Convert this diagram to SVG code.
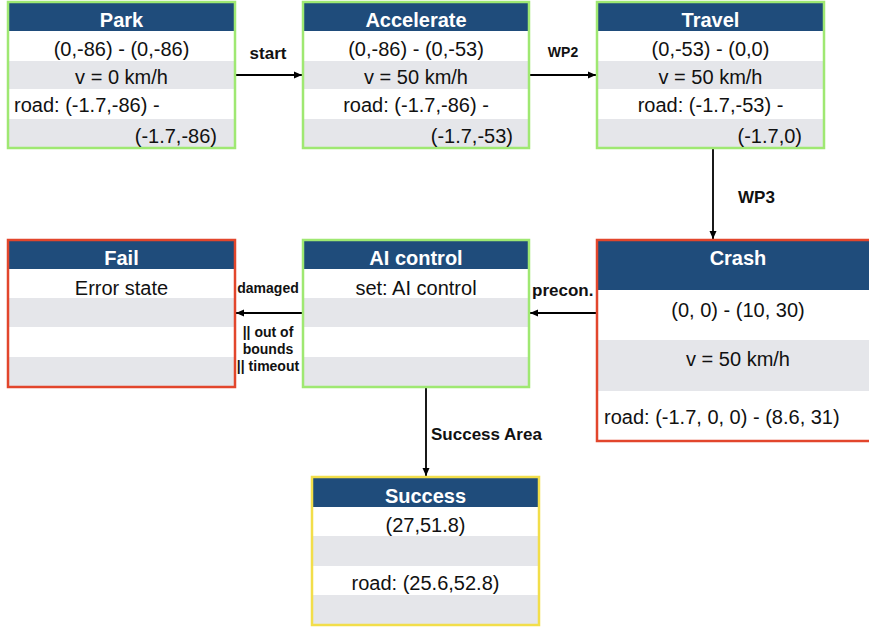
<svg xmlns="http://www.w3.org/2000/svg" width="869" height="628" viewBox="0 0 869 628">
<defs>
<marker id="ah" markerWidth="10" markerHeight="10" refX="9" refY="5" orient="auto" markerUnits="userSpaceOnUse">
<path d="M1,1.5 L9,5 L1,8.5 Z" fill="#000"/>
</marker>
<style>
.hd{fill:#1f4c7b}
.w{fill:#ffffff}
.g{fill:#e5e6ea}
.bg{fill:none;stroke:#9fe872;stroke-width:2.5}
.br{fill:none;stroke:#e2462c;stroke-width:2.5}
.by{fill:none;stroke:#f2de4a;stroke-width:2.5}
.ht{font-family:"Liberation Sans",Arial,sans-serif;font-weight:bold;font-size:20px;fill:#fff;text-anchor:middle}
.t{font-family:"Liberation Sans",Arial,sans-serif;font-size:20px;fill:#111}
.c{text-anchor:middle}
.e{text-anchor:end}
.lb{font-family:"Liberation Sans",Arial,sans-serif;font-weight:bold;font-size:17px;fill:#111}
.ls{font-family:"Liberation Sans",Arial,sans-serif;font-weight:bold;font-size:14px;fill:#111;text-anchor:middle}
.ln{stroke:#000;stroke-width:1.8;fill:none;marker-end:url(#ah)}
</style>
</defs>
<rect width="869" height="628" fill="#fff"/>

<g id="connectors">
<line class="ln" x1="236" y1="75" x2="302" y2="75"/>
<line class="ln" x1="530" y1="75" x2="596" y2="75"/>
<line class="ln" x1="713" y1="149" x2="713" y2="239"/>
<line class="ln" x1="597" y1="313" x2="530" y2="313"/>
<line class="ln" x1="303" y1="313" x2="236" y2="313"/>
<line class="ln" x1="426" y1="388" x2="426" y2="476"/>
<text class="lb" x="268" y="59" text-anchor="middle">start</text>
<text class="ls" x="563" y="57">WP2</text>
<text class="lb" x="738" y="203">WP3</text>
<text class="lb" x="532" y="296">precon.</text>
<text class="ls" x="268" y="293">damaged</text>
<text class="ls" x="268" y="337">|| out of</text>
<text class="ls" x="268" y="354">bounds</text>
<text class="ls" x="268" y="371">|| timeout</text>
<text class="lb" x="431" y="440">Success Area</text>
</g>

<g id="park">
<rect class="hd" x="8" y="2" width="227" height="29"/>
<rect class="w" x="8" y="31" width="227" height="30"/>
<rect class="g" x="8" y="61" width="227" height="28"/>
<rect class="w" x="8" y="89" width="227" height="30"/>
<rect class="g" x="8" y="119" width="227" height="29"/>
<rect class="bg" x="8" y="2" width="227" height="146"/>
<text class="ht" x="121.5" y="27">Park</text>
<text class="t c" x="121.5" y="56">(0,-86) - (0,-86)</text>
<text class="t c" x="121.5" y="84">v = 0 km/h</text>
<text class="t" x="14" y="112">road: (-1.7,-86) -</text>
<text class="t e" x="217" y="143">(-1.7,-86)</text>
</g>

<g id="accelerate">
<rect class="hd" x="303" y="2" width="226" height="29"/>
<rect class="w" x="303" y="31" width="226" height="30"/>
<rect class="g" x="303" y="61" width="226" height="28"/>
<rect class="w" x="303" y="89" width="226" height="30"/>
<rect class="g" x="303" y="119" width="226" height="29"/>
<rect class="bg" x="303" y="2" width="226" height="146"/>
<text class="ht" x="416" y="27">Accelerate</text>
<text class="t c" x="416" y="56">(0,-86) - (0,-53)</text>
<text class="t c" x="416" y="84">v = 50 km/h</text>
<text class="t c" x="416" y="112">road: (-1.7,-86) -</text>
<text class="t e" x="513" y="143">(-1.7,-53)</text>
</g>

<g id="travel">
<rect class="hd" x="597" y="2" width="227" height="29"/>
<rect class="w" x="597" y="31" width="227" height="30"/>
<rect class="g" x="597" y="61" width="227" height="28"/>
<rect class="w" x="597" y="89" width="227" height="30"/>
<rect class="g" x="597" y="119" width="227" height="29"/>
<rect class="bg" x="597" y="2" width="227" height="146"/>
<text class="ht" x="710.5" y="27">Travel</text>
<text class="t c" x="710.5" y="56">(0,-53) - (0,0)</text>
<text class="t c" x="710.5" y="84">v = 50 km/h</text>
<text class="t c" x="710.5" y="112">road: (-1.7,-53) -</text>
<text class="t e" x="802" y="143">(-1.7,0)</text>
</g>

<g id="crash">
<rect class="hd" x="597" y="240" width="282" height="50"/>
<rect class="w" x="597" y="290" width="282" height="50"/>
<rect class="g" x="597" y="340" width="282" height="51"/>
<rect class="w" x="597" y="391" width="282" height="50"/>
<rect class="br" x="597" y="240" width="282" height="201"/>
<text class="ht" x="738" y="265">Crash</text>
<text class="t c" x="738" y="317">(0, 0) - (10, 30)</text>
<text class="t c" x="738" y="366">v = 50 km/h</text>
<text class="t" x="604" y="424">road: (-1.7, 0, 0) - (8.6, 31)</text>
</g>

<g id="ai-control">
<rect class="hd" x="303" y="240" width="226" height="29"/>
<rect class="w" x="303" y="269" width="226" height="29"/>
<rect class="g" x="303" y="298" width="226" height="29"/>
<rect class="w" x="303" y="327" width="226" height="30"/>
<rect class="g" x="303" y="357" width="226" height="30"/>
<rect class="bg" x="303" y="240" width="226" height="147"/>
<text class="ht" x="416" y="265">AI control</text>
<text class="t c" x="416" y="295">set: AI control</text>
</g>

<g id="fail">
<rect class="hd" x="8" y="240" width="227" height="29"/>
<rect class="w" x="8" y="269" width="227" height="29"/>
<rect class="g" x="8" y="298" width="227" height="29"/>
<rect class="w" x="8" y="327" width="227" height="30"/>
<rect class="g" x="8" y="357" width="227" height="30"/>
<rect class="br" x="8" y="240" width="227" height="147"/>
<text class="ht" x="121.5" y="265">Fail</text>
<text class="t c" x="121.5" y="295">Error state</text>
</g>

<g id="success">
<rect class="hd" x="312" y="477" width="227" height="30"/>
<rect class="w" x="312" y="507" width="227" height="29"/>
<rect class="g" x="312" y="536" width="227" height="30"/>
<rect class="w" x="312" y="566" width="227" height="29"/>
<rect class="g" x="312" y="595" width="227" height="30"/>
<rect class="by" x="312" y="477" width="227" height="148"/>
<text class="ht" x="425.5" y="503">Success</text>
<text class="t c" x="425.5" y="532">(27,51.8)</text>
<text class="t c" x="425.5" y="590">road: (25.6,52.8)</text>
</g>
</svg>
